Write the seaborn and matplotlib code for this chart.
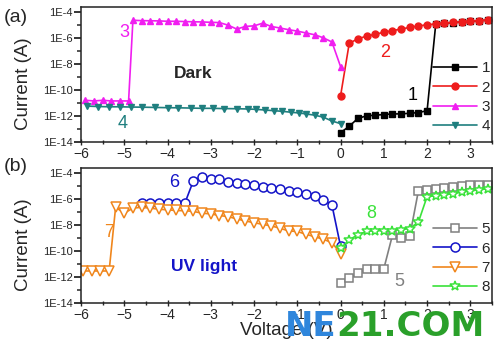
import numpy as np
import pandas as pd
import matplotlib
matplotlib.use("Agg")
import matplotlib.pyplot as plt
from matplotlib.ticker import FixedLocator, FuncFormatter, MultipleLocator, NullFormatter
import seaborn as sns

# Data (current stored as log10 of A)
# (a) dark
v1 = [0, 0.2, 0.4, 0.6, 0.8, 1.0, 1.2, 1.4, 1.6, 1.8, 2.0, 2.2, 2.4, 2.6, 2.8, 3.0, 3.2, 3.4]
i1 = [-13.3, -12.8, -12.2, -12.0, -11.95, -11.9, -11.85, -11.85, -11.8, -11.75, -11.6,
      -4.9, -4.85, -4.8, -4.75, -4.7, -4.65, -4.62]

v2 = [0, 0.2, 0.4, 0.6, 0.8, 1.0, 1.2, 1.4, 1.6, 1.8, 2.0, 2.2, 2.4, 2.6, 2.8, 3.0, 3.2, 3.4]
i2 = [-10.45, -6.4, -6.05, -5.85, -5.7, -5.55, -5.42, -5.3, -5.17, -5.06, -4.97, -4.9,
      -4.84, -4.79, -4.74, -4.69, -4.64, -4.6]

v3 = [-5.9, -5.7, -5.5, -5.3, -5.1, -4.9, -4.8, -4.6, -4.4, -4.2, -4.0, -3.8, -3.6, -3.4,
      -3.2, -3.0, -2.8, -2.6, -2.4, -2.2, -2.0, -1.8, -1.6, -1.4, -1.2, -1.0, -0.8, -0.6,
      -0.4, -0.2, 0]
i3 = [-10.8, -10.85, -10.8, -10.85, -10.85, -10.85, -4.62, -4.65, -4.66, -4.67, -4.7, -4.7,
      -4.72, -4.74, -4.75, -4.78, -4.8, -5.0, -5.3, -5.1, -5.05, -4.85, -5.1, -5.22, -5.35,
      -5.46, -5.6, -5.74, -5.97, -6.3, -8.2]

v4 = [-5.85, -5.6, -5.35, -5.1, -4.85, -4.6, -4.3, -4.0, -3.75, -3.45, -3.2, -2.95, -2.7,
      -2.4, -2.15, -1.95, -1.75, -1.55, -1.35, -1.15, -0.95, -0.8, -0.6, -0.4, -0.2, 0]
i4 = [-11.25, -11.28, -11.3, -11.3, -11.32, -11.33, -11.35, -11.37, -11.38, -11.4, -11.42,
      -11.42, -11.44, -11.45, -11.47, -11.5, -11.55, -11.6, -11.65, -11.72, -11.78, -11.85,
      -11.95, -12.1, -12.4, -12.6]

# (b) UV light
v5 = [0, 0.2, 0.4, 0.6, 0.8, 1.0, 1.2, 1.4, 1.6, 1.8, 2.0, 2.2, 2.4, 2.6, 2.8, 3.0, 3.2, 3.4]
i5 = [-12.5, -12.1, -11.73, -11.42, -11.42, -11.37, -8.77, -8.98, -8.85, -5.34, -5.32,
      -5.21, -5.15, -5.03, -4.98, -4.95, -4.93, -4.9]

v6 = [-4.6, -4.4, -4.2, -4.0, -3.8, -3.6, -3.4, -3.2, -3.0, -2.8, -2.6, -2.4, -2.2, -2.0,
      -1.8, -1.6, -1.4, -1.2, -1.0, -0.8, -0.6, -0.4, -0.2, 0]
i6 = [-6.32, -6.3, -6.3, -6.3, -6.32, -6.32, -4.57, -4.26, -4.46, -4.44, -4.65, -4.77,
      -4.83, -4.9, -5.05, -5.15, -5.24, -5.35, -5.46, -5.62, -5.77, -6.06, -6.45, -9.65]

v7 = [-5.95, -5.75, -5.55, -5.35, -5.2, -5.0, -4.8, -4.6, -4.4, -4.2, -4.0, -3.8, -3.6,
      -3.4, -3.2, -3.0, -2.8, -2.6, -2.4, -2.2, -2.0, -1.8, -1.6, -1.4, -1.2, -1.0, -0.8,
      -0.6, -0.4, -0.2, 0]
i7 = [-11.55, -11.55, -11.55, -11.55, -6.63, -7.09, -6.7, -6.63, -6.7, -6.78, -6.83, -6.88,
      -6.9, -6.95, -7.09, -7.14, -7.27, -7.35, -7.53, -7.69, -7.82, -7.95, -8.07, -8.25,
      -8.46, -8.5, -8.72, -8.9, -9.1, -9.36, -10.2]

v8 = [0, 0.2, 0.4, 0.6, 0.8, 1.0, 1.2, 1.4, 1.6, 1.8, 2.0, 2.2, 2.4, 2.6, 2.8, 3.0, 3.2, 3.4]
i8 = [-9.8, -9.15, -8.75, -8.5, -8.43, -8.45, -8.43, -8.35, -8.27, -7.76, -5.8, -5.75,
      -5.68, -5.57, -5.47, -5.37, -5.28, -5.2]

c1, c2, c3, c4 = "black", "#ee1c1c", "#f01ef0", "#1f7f7f"
c5, c6, c7, c8 = "#808080", "#1414c8", "#f0861c", "#3ae23a"

sns.set_style("ticks")
plt.rcParams["font.family"] = ["Liberation Sans", "DejaVu Sans"]

fig, (ax1, ax2) = plt.subplots(2, 1, figsize=(5, 3.52), dpi=100)
fig.subplots_adjust(left=0.162, right=0.984, top=0.980, bottom=0.140, hspace=0.195)


def draw(ax, v, i, color, marker, label, ms, filled=True):
    df = pd.DataFrame({"V": v, "I": 10.0 ** np.array(i)})
    sns.lineplot(data=df, x="V", y="I", ax=ax, color=color, marker=marker,
                 markersize=ms, markeredgecolor=color,
                 markerfacecolor=color if filled else "white",
                 markeredgewidth=1.0 if filled else 1.1,
                 linewidth=1.2, label=label, estimator=None, sort=False)


draw(ax1, v1, i1, c1, "s", "1", 4.2)
draw(ax1, v2, i2, c2, "o", "2", 5)
draw(ax1, v3, i3, c3, "^", "3", 5)
draw(ax1, v4, i4, c4, "v", "4", 5)

draw(ax2, v5, i5, c5, "s", "5", 6, filled=False)
draw(ax2, v6, i6, c6, "o", "6", 6.5, filled=False)
draw(ax2, v7, i7, c7, "v", "7", 7, filled=False)
draw(ax2, v8, i8, c8, "*", "8", 7, filled=False)

for ax in (ax1, ax2):
    ax.set_yscale("log")
    ax.set_xlim(-6, 3.5)
    ax.set_ylim(1e-14, 10 ** -3.6)
    ax.yaxis.set_major_locator(FixedLocator(10.0 ** np.arange(-14, -3, 2)))
    ax.yaxis.set_minor_locator(FixedLocator(10.0 ** np.arange(-13, -3, 2)))
    ax.yaxis.set_major_formatter(FuncFormatter(lambda y, p: "1E%d" % round(np.log10(y))))
    ax.yaxis.set_minor_formatter(NullFormatter())
    ax.xaxis.set_major_locator(MultipleLocator(1))
    ax.xaxis.set_minor_locator(MultipleLocator(0.5))
    ax.tick_params(axis="y", which="major", labelsize=8, length=5, width=1.3, direction="out", pad=1)
    ax.tick_params(axis="y", which="minor", length=3, width=1.1, direction="out")
    ax.tick_params(axis="x", which="major", labelsize=10, length=5, width=1.0, direction="inout", pad=1)
    ax.tick_params(axis="x", which="minor", length=3, width=1.0, direction="inout")
    for s in ax.spines.values():
        s.set_visible(True)
        s.set_linewidth(1.1)
        s.set_color("#222222")
    ax.set_ylabel("Current (A)", fontsize=13.5)
    ax.yaxis.set_label_coords(-0.119, 0.43)
    ax.set_xlabel("")
    ax.legend(frameon=False, loc="center right", bbox_to_anchor=(1.01, 0.33),
              fontsize=11, handlelength=2.9, handletextpad=0.3, labelspacing=0.35,
              borderaxespad=0)

ax2.set_xlabel("Voltage (V)", fontsize=13.5, labelpad=0)

# annotations
ax1.text(-3.4, 10 ** -8.7, "Dark", fontsize=12.5, fontweight="bold", ha="center", va="center")
ax1.text(-5.0, 10 ** -5.6, "3", color=c3, fontsize=13, ha="center", va="center")
ax1.text(-5.03, 10 ** -12.6, "4", color=c4, fontsize=13, ha="center", va="center")
ax1.text(1.04, 10 ** -7.1, "2", color=c2, fontsize=13, ha="center", va="center")
ax1.text(1.66, 10 ** -10.4, "1", color=c1, fontsize=13, ha="center", va="center")

ax2.text(-3.16, 10 ** -11.2, "UV light", color=c6, fontsize=12.5, fontweight="bold",
         ha="center", va="center")
ax2.text(-3.85, 10 ** -4.75, "6", color=c6, fontsize=13, ha="center", va="center")
ax2.text(-5.35, 10 ** -8.6, "7", color=c7, fontsize=13, ha="center", va="center")
ax2.text(0.72, 10 ** -7.1, "8", color=c8, fontsize=13, ha="center", va="center")
ax2.text(1.36, 10 ** -12.4, "5", color=c5, fontsize=13, ha="center", va="center")

fig.text(0.008, 0.949, "(a)", fontsize=14, va="center", ha="left")
fig.text(0.008, 0.528, "(b)", fontsize=14, va="center", ha="left")

# watermark
fig.canvas.draw()
t1 = fig.text(0.57, 0.072, "NE", fontsize=24.5, fontweight="bold", color="#2f86dc",
              family="DejaVu Sans", va="center", ha="left")
fig.canvas.draw()
bb = t1.get_window_extent().transformed(fig.transFigure.inverted())
fig.text(bb.x1, 0.072, "21.COM", fontsize=24.5, fontweight="bold", color="#2aa02a",
         family="DejaVu Sans", va="center", ha="left")

fig.savefig("out.png", dpi=100)
